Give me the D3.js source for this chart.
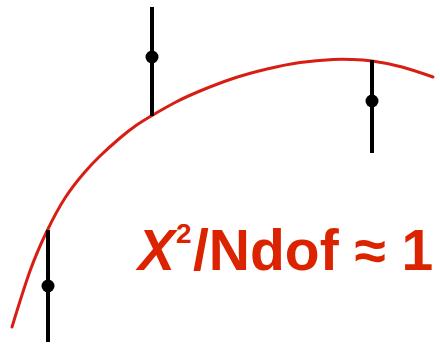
<!DOCTYPE html>
<html>
<head>
<meta charset="utf-8">
<script src="https://cdn.jsdelivr.net/npm/d3@7"></script>
<style>
  html, body { margin: 0; padding: 0; background: #ffffff; }
  svg { display: block; }
</style>
</head>
<body>
<svg id="chart" width="440" height="345"></svg>
<script>
// Fitted model curve (sampled)
const curveX = [12, 30, 47, 65, 84, 100, 120, 136, 152, 176, 200, 233, 267, 300, 333, 352, 372, 402, 433];
const curveY = [18, 74, 114, 147, 172, 189, 207, 219.5, 229.5, 243, 254, 266.5, 276, 282.5, 285.5, 285.5, 284, 278, 268];

// Measurements with asymmetric uncertainties
const pointX    = [48, 152, 372];
const pointY    = [59, 288, 244];
const pointHigh = [115, 338, 285];
const pointLow  = [3, 229, 192];

// Goodness-of-fit annotation
const labelMain = "X";
const labelSup = "2";
const labelRest = "/Ndof \u2248 1";

const width = 440, height = 345;
const svg = d3.select("#chart");

const x = d3.scaleLinear().domain([0, 440]).range([0, width]);
const y = d3.scaleLinear().domain([0, 345]).range([height, 0]);

const red = "#d81e14";
const textRed = "#dc2300";

// model curve
const line = d3.line()
  .x(d => x(d[0]))
  .y(d => y(d[1]))
  .curve(d3.curveNatural);

svg.append("path")
  .datum(d3.zip(curveX, curveY))
  .attr("d", line)
  .attr("fill", "none")
  .attr("stroke", red)
  .attr("stroke-width", 3)
  .attr("stroke-linecap", "round");

// error bars
const pts = pointX.map((px, i) => ({ x: px, y: pointY[i], hi: pointHigh[i], lo: pointLow[i] }));

svg.selectAll("line.err")
  .data(pts)
  .join("line")
  .attr("class", "err")
  .attr("x1", d => x(d.x))
  .attr("x2", d => x(d.x))
  .attr("y1", d => y(d.hi))
  .attr("y2", d => y(d.lo))
  .attr("stroke", "#000")
  .attr("stroke-width", 4);

svg.selectAll("circle.pt")
  .data(pts)
  .join("circle")
  .attr("class", "pt")
  .attr("cx", d => x(d.x))
  .attr("cy", d => y(d.y))
  .attr("r", 6.5)
  .attr("fill", "#000");

// annotation
const font = "'Liberation Sans', Arial, sans-serif";
svg.append("text")
  .attr("x", 138).attr("y", 270)
  .attr("font-family", font)
  .attr("font-weight", "bold")
  .attr("font-style", "italic")
  .attr("font-size", 57)
  .attr("textLength", 37)
  .attr("lengthAdjust", "spacingAndGlyphs")
  .attr("fill", textRed)
  .text(labelMain);

svg.append("text")
  .attr("x", 176).attr("y", 243)
  .attr("font-family", font)
  .attr("font-weight", "bold")
  .attr("font-size", 28)
  .attr("fill", textRed)
  .text(labelSup);

svg.append("text")
  .attr("x", 193).attr("y", 270)
  .attr("font-family", font)
  .attr("font-weight", "bold")
  .attr("font-size", 57)
  .attr("fill", textRed)
  .text(labelRest);
</script>
</body>
</html>
